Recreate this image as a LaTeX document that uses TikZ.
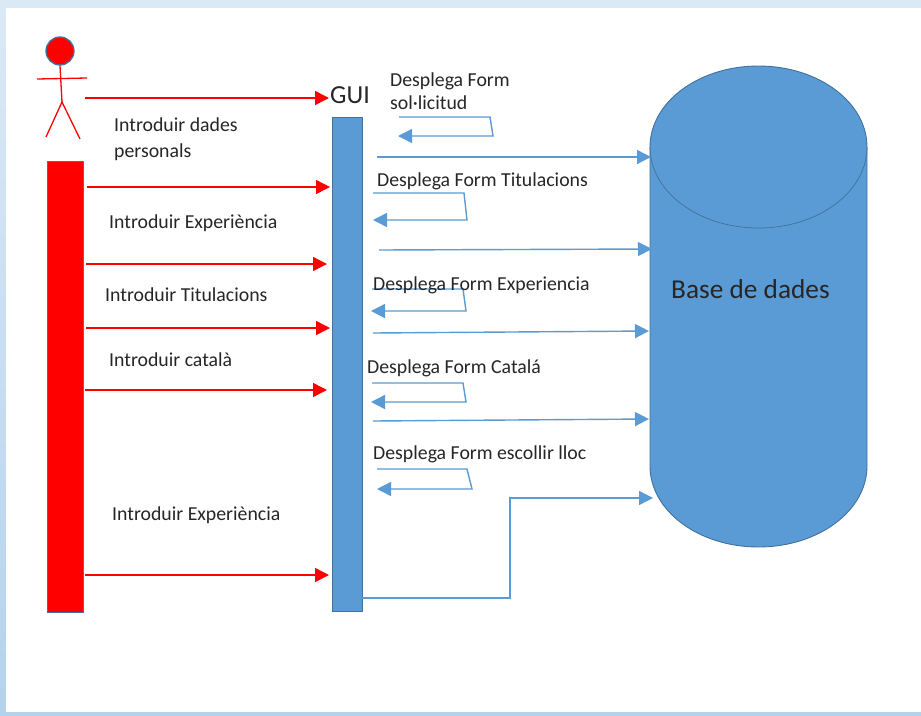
\documentclass[tikz,border=0pt]{standalone}
\usepackage{fontspec}
\setmainfont{Carlito}
\usetikzlibrary{arrows.meta}
\definecolor{bluefill}{HTML}{5B9BD5}
\definecolor{blueedge}{HTML}{41719C}
\definecolor{txt}{HTML}{262626}
\tikzset{
  x=1pt,y=-1pt,
  redflow/.style={draw=red,line width=1.5pt,-{Triangle[length=14pt,width=14pt]}},
  blueflow/.style={draw=bluefill,line width=1.4pt,-{Triangle[length=14pt,width=14pt]}},
  limb/.style={draw=red,line width=1.3pt},
  lbl/.style={anchor=west,inner sep=0pt,text=txt,font=\fontsize{19.8}{26}\selectfont,align=left},
  barnode/.style={draw=blueedge,line width=1.3pt,inner sep=0pt,minimum width=#1,anchor=north west},
}
\begin{document}
\begin{tikzpicture}
\useasboundingbox (0,0) rectangle (921,715);
% page background
\shade[top color=bluefill!22!white,bottom color=bluefill!45!white] (0,0) rectangle (921,715);
\fill[white] (6,8) rectangle (921,712);
% database cylinder
\path[fill=bluefill,draw=blueedge,line width=0.9pt]
  (650,147) arc[x radius=108.5,y radius=81,start angle=180,end angle=360]
  -- (867,466) arc[x radius=108.5,y radius=81,start angle=0,end angle=180] -- cycle;
\draw[blueedge,line width=0.7pt] (650,147) arc[x radius=108.5,y radius=81,start angle=180,end angle=0];
\node[anchor=west,inner sep=0pt,text=txt,font=\fontsize{27.3}{30}\selectfont] (db) at (671,289) {Base de dades};
% actor
\node[circle,fill=red,draw=blueedge,line width=1.3pt,minimum size=28pt,inner sep=0pt] (head) at (60,51) {};
\coordinate (hip) at (62,102);
\coordinate (armL) at (37,79);
\coordinate (armR) at (87,78);
\coordinate (footL) at (46,137);
\coordinate (footR) at (80,139);
\draw[limb] (head.south) -- (hip);
\draw[limb] (armL) -- (armR);
\draw[limb] (footL) -- (hip) -- (footR);
% lifelines
\node[barnode=36pt,fill=red,minimum height=451pt] (actorbar) at (47,161) {};
\node[barnode=30pt,fill=bluefill,minimum height=494pt] (gui) at (332,117) {};
\node[anchor=west,inner sep=0pt,text=txt,font=\fontsize{26}{28}\selectfont] (guilabel) at (330,95) {GUI};
% red arrows
\foreach \n/\xa/\xb/\yy in {1/85/329/98,2/87/330/187,3/86/327/264,4/86/330/328,5/85/327/390,6/85/329/575}{
  \coordinate (rs\n) at (\xa,\yy);
  \coordinate (re\n) at (\xb,\yy);
  \draw[redflow] (rs\n) -- (re\n);
}
% blue arrows to the database
\foreach \n/\xa/\ya/\xb/\yb in {1/377/157/651/157,2/379/250/652/249,3/373/333/649/331,4/373/421/649/419}{
  \coordinate (bs\n) at (\xa,\ya);
  \coordinate (be\n) at (\xb,\yb);
  \draw[blueflow] (bs\n) -- (be\n);
}
% self loops
\foreach \n/\xa/\ya/\xb/\xc/\yc/\xd in {1/399/117/490/493/136/398,2/373/193/464/467/220/373,3/372/289/463/466/311/371,4/372/383/463/466/402/371,5/377/469/467/472/489/377}{
  \coordinate (ls\n) at (\xa,\ya);
  \coordinate (lb\n) at (\xb,\ya);
  \coordinate (lc\n) at (\xc,\yc);
  \coordinate (le\n) at (\xd,\yc);
  \draw[blueflow] (ls\n) -- (lb\n) -- (lc\n) -- (le\n);
}
% elbow
\coordinate (elA) at (362,598);
\coordinate (elB) at (510,598);
\coordinate (elC) at (510,498);
\coordinate (elD) at (653,498);
\draw[blueflow] (elA) -- (elB) -- (elC) -- (elD);
% labels
\node[lbl] (t1) at (114,139) {Introduir dades\\personals};
\node[lbl] (t2) at (109,223) {Introduir Experiència};
\node[lbl] (t3) at (105,295) {Introduir Titulacions};
\node[lbl] (t4) at (109,360) {Introduir català};
\node[lbl] (t5) at (112,515) {Introduir Experiència};
\node[lbl,font=\fontsize{19.8}{23}\selectfont] (t6) at (390,91) {Desplega Form\\sol·licitud};
\node[lbl] (t7) at (377,181) {Desplega Form Titulacions};
\node[lbl] (t8) at (373,285) {Desplega Form Experiencia};
\node[lbl] (t9) at (367,368) {Desplega Form Catalá};
\node[lbl] (t10) at (373,454) {Desplega Form escollir lloc};
\end{tikzpicture}
\end{document}
